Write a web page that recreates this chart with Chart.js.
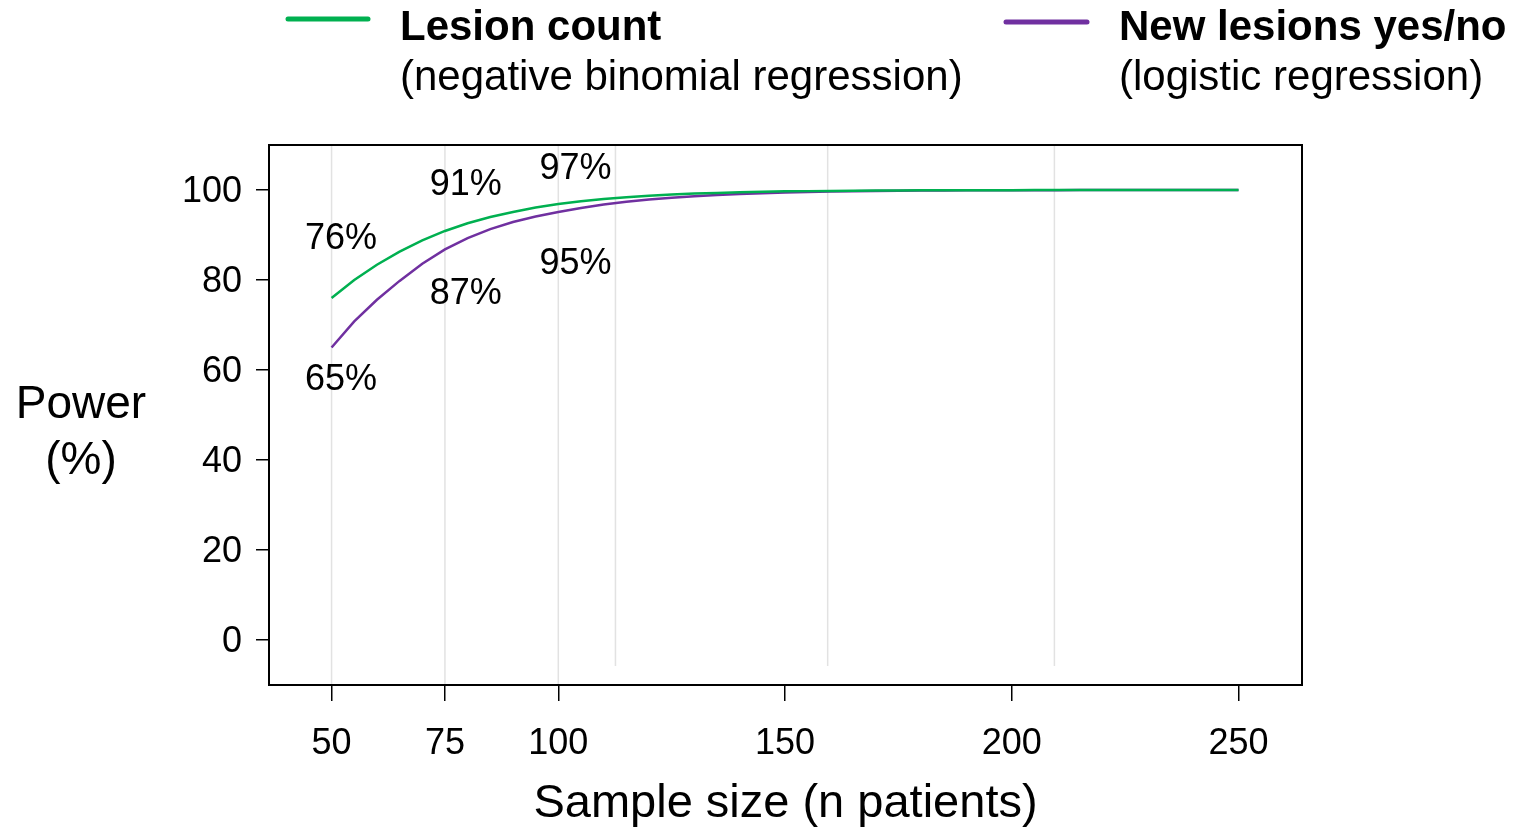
<!DOCTYPE html>
<html>
<head>
<meta charset="utf-8">
<script src="https://cdn.jsdelivr.net/npm/chart.js@4.4.1/dist/chart.umd.min.js"></script>
<style>
  html, body { margin: 0; padding: 0; background: #ffffff; }
  #wrap { width: 1515px; height: 829px; position: relative; }
</style>
</head>
<body>
<div id="wrap"><canvas id="c" width="1515" height="829"></canvas></div>
<script>
// ---- Data ----
const sampleSizes = [50,55,60,65,70,75,80,85,90,95,100,105,110,115,120,125,130,135,140,145,150,155,160,165,170,175,180,185,190,195,200,205,210,215,220,225,230,235,240,245,250];
const lesionCountPower = [76.0,80.0,83.4,86.3,88.8,90.9,92.6,94.0,95.1,96.1,96.9,97.5,98.0,98.4,98.7,99.0,99.2,99.35,99.5,99.6,99.7,99.75,99.8,99.85,99.88,99.9,99.92,99.94,99.95,99.96,99.97,99.98,99.98,99.99,99.99,99.99,100,100,100,100,100];
const newLesionsPower = [65.0,70.8,75.6,79.8,83.6,86.8,89.3,91.3,92.9,94.1,95.1,96.0,96.8,97.4,97.9,98.3,98.6,98.9,99.1,99.3,99.45,99.55,99.65,99.72,99.78,99.83,99.87,99.9,99.92,99.94,99.95,99.96,99.97,99.98,99.98,99.99,99.99,100,100,100,100];
const xTickValues = [50,75,100,150,200,250];
const yTickValues = [0,20,40,60,80,100];
const gridFullValues = [50,75,100];
const gridShortValues = [112.6,159.4,209.4];

// annotated sample sizes and label anchors (data units)
const labelSampleSizes = [50,75,100];
const lesionLabelX = [52.1,79.6,103.8];
const lesionLabelY = [89.1,101.1,104.6];
const newLesionLabelX = [52.1,79.6,103.8];
const newLesionLabelY = [57.8,76.8,83.6];

const seriesNames = ['Lesion count','New lesions yes/no'];
const seriesSubtitles = ['(negative binomial regression)','(logistic regression)'];
const xTitle = 'Sample size (n patients)';
const yTitleLines = ['Power','(%)'];

// ---- Styles ----
const GREEN = '#00b050';
const PURPLE = '#7030a0';
const FONT = "'Liberation Sans', Arial, Helvetica, sans-serif";
Chart.defaults.font.family = FONT;
Chart.defaults.color = '#000';

function pctText(v){ return Math.round(v) + '%'; }

const decorPlugin = {
  id: 'decor',
  beforeDatasetsDraw(chart) {
    const {ctx, chartArea: a, scales: {x}} = chart;
    ctx.save();
    ctx.strokeStyle = '#e2e2e2';
    ctx.lineWidth = 1.5;
    gridFullValues.forEach(v => {
      const px = x.getPixelForValue(v);
      ctx.beginPath(); ctx.moveTo(px, a.top); ctx.lineTo(px, a.bottom); ctx.stroke();
    });
    gridShortValues.forEach(v => {
      const px = x.getPixelForValue(v);
      ctx.beginPath(); ctx.moveTo(px, a.top); ctx.lineTo(px, a.bottom - 19); ctx.stroke();
    });
    ctx.restore();
  },
  afterDraw(chart) {
    const {ctx, chartArea: a, scales: {x, y}} = chart;
    ctx.save();
    // plot box
    ctx.strokeStyle = '#000';
    ctx.lineWidth = 2;
    ctx.strokeRect(a.left, a.top, a.right - a.left, a.bottom - a.top);

    // value labels
    ctx.fillStyle = '#000';
    ctx.font = '36px ' + FONT;
    ctx.textAlign = 'center';
    ctx.textBaseline = 'middle';
    labelSampleSizes.forEach((n, i) => {
      const idx = sampleSizes.indexOf(n);
      ctx.fillText(pctText(lesionCountPower[idx]), x.getPixelForValue(lesionLabelX[i]), y.getPixelForValue(lesionLabelY[i]));
      ctx.fillText(pctText(newLesionsPower[idx]), x.getPixelForValue(newLesionLabelX[i]), y.getPixelForValue(newLesionLabelY[i]));
    });

    // axis titles
    ctx.textBaseline = 'alphabetic';
    ctx.font = '47px ' + FONT;
    ctx.fillText(xTitle, (a.left + a.right) / 2, 817);
    ctx.font = '46px ' + FONT;
    ctx.fillText(yTitleLines[0], 81, 418);
    ctx.fillText(yTitleLines[1], 81, 474);

    // legend
    const items = [
      {color: GREEN, x0: 288, x1: 368, ly: 19, tx: 400},
      {color: PURPLE, x0: 1006, x1: 1087, ly: 22, tx: 1119}
    ];
    items.forEach((it, i) => {
      ctx.strokeStyle = it.color;
      ctx.lineWidth = 5;
      ctx.lineCap = 'round';
      ctx.beginPath(); ctx.moveTo(it.x0, it.ly); ctx.lineTo(it.x1, it.ly); ctx.stroke();
      ctx.textAlign = 'left';
      ctx.fillStyle = '#000';
      ctx.font = 'bold 42px ' + FONT;
      ctx.fillText(seriesNames[i], it.tx, 40);
      ctx.font = '42px ' + FONT;
      ctx.fillText(seriesSubtitles[i], it.tx, 90);
    });
    ctx.restore();
  }
};

new Chart(document.getElementById('c'), {
  type: 'line',
  data: {
    datasets: [
      {
        label: seriesNames[0],
        data: sampleSizes.map((n, i) => ({x: n, y: lesionCountPower[i]})),
        borderColor: GREEN, backgroundColor: GREEN, borderWidth: 2.5,
        pointRadius: 0, tension: 0, fill: false
      },
      {
        label: seriesNames[1],
        data: sampleSizes.map((n, i) => ({x: n, y: newLesionsPower[i]})),
        borderColor: PURPLE, backgroundColor: PURPLE, borderWidth: 2.5,
        pointRadius: 0, tension: 0, fill: false
      }
    ]
  },
  options: {
    responsive: false,
    animation: false,
    events: [],
    layout: { padding: { top: 145, right: 213, bottom: 0, left: 0 } },
    plugins: { legend: { display: false }, tooltip: { enabled: false }, title: { display: false } },
    scales: {
      x: {
        type: 'linear', position: 'bottom',
        min: 36.2, max: 264,
        afterBuildTicks: s => { s.ticks = xTickValues.map(v => ({value: v})); },
        afterFit: s => { s.height = 144; },
        grid: { drawOnChartArea: false, drawTicks: true, tickLength: 16, color: '#000', lineWidth: 1.5 },
        border: { display: false },
        ticks: { autoSkip: false, maxRotation: 0, minRotation: 0, padding: 21, color: '#000', font: { size: 36 } },
        title: { display: false }
      },
      y: {
        type: 'linear', position: 'left',
        min: -10, max: 110,
        afterBuildTicks: s => { s.ticks = yTickValues.map(v => ({value: v})); },
        afterFit: s => { s.width = 269; },
        grid: { drawOnChartArea: false, drawTicks: true, tickLength: 13, color: '#000', lineWidth: 1.5 },
        border: { display: false },
        ticks: { padding: 14, labelOffset: 2, color: '#000', font: { size: 36 } },
        title: { display: false }
      }
    }
  },
  plugins: [decorPlugin]
});
</script>
</body>
</html>
